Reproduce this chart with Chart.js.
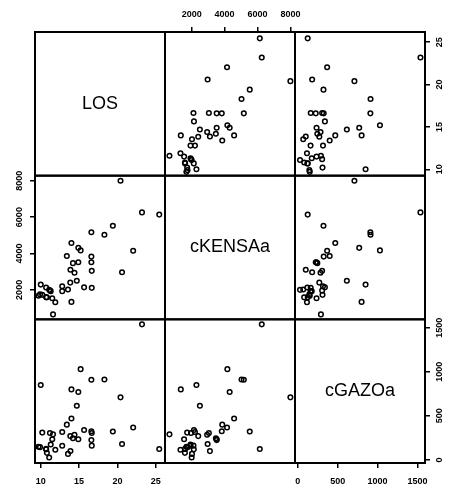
<!DOCTYPE html>
<html>
<head>
<meta charset="utf-8">
<script src="https://cdn.jsdelivr.net/npm/chart.js@4.4.0/dist/chart.umd.min.js"></script>
<style>
body{margin:0;background:#fff}
</style>
</head>
<body>
<canvas id="pairs" width="459" height="493"></canvas>
<script>
// variables of the scatterplot matrix
const names=["LOS","cKENSAa","cGAZOa"]
const los=[23.2,15.2,16.6,18.3,10.0,14.0,14.9,20.4,14.7,14.0,13.4,15.65,22.05,10.2,11.2,11.6,12.8,16.6,16.65,19.4,13.85,14.4,14.2,14.9,11.5,11.3,12.8,11.9,9.9,9.7,10.7,10.8,11.1,13.55,13.87,16.65,20.6,25.45,16.6,10.7]
const kensa=[6260,4170,5170,5030,2290,1340,4310,8000,2500,4580,3860,2140,4150,1725,1960,650,2200,3830,3046,5530,2400,2940,3470,3520,1540,1930,1930,1320,1750,1680,1600,1590,2000,2020,3110,2110,2970,6140,3520,2130]
const gazo=[1538,1030,910,912,850,800,770,710,615,470,400,340,368,310,305,290,316,325,305,322,270,285,245,235,235,175,160,115,145,150,125,80,28,68,100,162,180,124,225,120]

const losTicks=[10,15,20,25]
const kensaTicks=[2000,4000,6000,8000]
const gazoTicks=[0,500,1000,1500]

const losRange=[9.25,26.2]
const kensaRange=[380,8280]
const gazoRange=[-35,1595]

const vars=[los,kensa,gazo]
const ticksOf=[losTicks,kensaTicks,gazoTicks]
const ranges=[losRange,kensaRange,gazoRange]
const FONT='"Liberation Sans", Arial, sans-serif'

// one axis of the matrix; k = variable index
function axis(k,pos,stack,labels,marks,size,pad){
const horiz=pos==="top"||pos==="bottom"
return{
type:"linear",
position:pos,
stack:stack,
min:ranges[k][0],
max:ranges[k][1],
afterBuildTicks:s=>{s.ticks=ticksOf[k].map(v=>({value:v}))},
afterFit:s=>{if(horiz)s.height=size;else s.width=size},
border:{display:false},
grid:{display:marks,drawOnChartArea:false,drawTicks:true,tickLength:5,color:"#000",lineWidth:1.5},
ticks:{
display:labels&&horiz,
padding:pad,
autoSkip:false,
maxRotation:0,
color:"#000",
font:{family:FONT,size:9,weight:"bold"},
callback:v=>String(v)
}
}
}

const scales={
x0:axis(0,"bottom","b",true,true,30,8),
x1:axis(1,"bottom","b",false,false,30,8),
x2:axis(2,"bottom","b",true,true,30,8),
y2:axis(2,"left","l",false,false,35,0),
y1:axis(1,"left","l",true,true,35,0),
y0:axis(0,"left","l",false,false,35,0),
xt2:axis(2,"top","t",false,false,32,7),
xt1:axis(1,"top","t",true,true,32,7),
xt0:axis(0,"top","t",false,false,32,7),
yr0:axis(0,"right","r",true,true,34,0),
yr1:axis(1,"right","r",false,false,34,0),
yr2:axis(2,"right","r",true,true,34,0)
}

const datasets=[]
for(let i=0;i<3;i++){
for(let j=0;j<3;j++){
if(i===j)continue
datasets.push({
data:vars[j].map((v,n)=>({x:v,y:vars[i][n]})),
xAxisID:"x"+j,
yAxisID:"y"+i
})
}
}

// panel frames, rotated y labels and the names on the diagonal
const pairsPlugin={
id:"pairs",
afterDraw(chart){
const ctx=chart.ctx
const xs=[0,1,2].map(j=>chart.scales["x"+j])
const ys=[0,1,2].map(i=>chart.scales["y"+i])
ctx.save()

ctx.fillStyle="#000"
ctx.font="bold 9px "+FONT
ctx.textAlign="center"
ctx.textBaseline="middle"
;["y1","yr0","yr2"].forEach(id=>{
const s=chart.scales[id]
const x=s.position==="left"?s.right-15:s.left+15
s.ticks.forEach(t=>{
ctx.save()
ctx.translate(x,s.getPixelForValue(t.value))
ctx.rotate(-Math.PI/2)
ctx.fillText(String(t.value),0,0)
ctx.restore()
})
})

ctx.strokeStyle="#000"
ctx.lineWidth=2
for(let i=0;i<3;i++){
for(let j=0;j<3;j++){
ctx.strokeRect(xs[j].left,ys[i].top,xs[j].width,ys[i].height)
}
}

ctx.font="18px "+FONT
for(let k=0;k<3;k++){
ctx.fillText(names[k],(xs[k].left+xs[k].right)/2,(ys[k].top+ys[k].bottom)/2)
}
ctx.restore()
}
}

new Chart(document.getElementById("pairs"),{
type:"scatter",
data:{datasets:datasets},
options:{
responsive:false,
animation:false,
events:[],
layout:{padding:0},
plugins:{legend:{display:false},tooltip:{enabled:false}},
elements:{point:{radius:2.3,borderWidth:1.5,borderColor:"#000",backgroundColor:"rgba(0,0,0,0)"}},
scales:scales
},
plugins:[pairsPlugin]
})
</script>
</body>
</html>
